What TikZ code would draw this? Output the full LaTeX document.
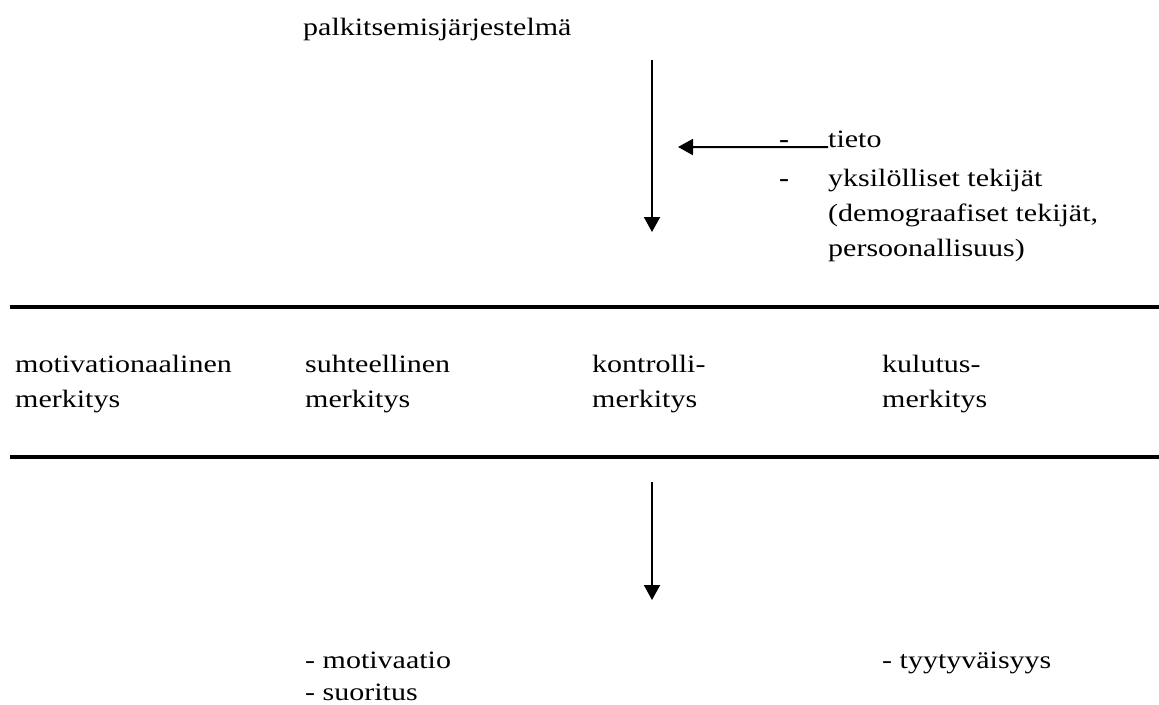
\documentclass[tikz,border=0pt]{standalone}
\usepackage{fontspec}
\setmainfont[FakeStretch=1.2]{Liberation Serif}
\usetikzlibrary{arrows.meta}

% strut that fixes the first baseline 24pt below a node's top edge
\newcommand\firstline{\rule{0pt}{24pt}}

\begin{document}
\begin{tikzpicture}[x=1pt,y=-1pt,
  lbl/.style={anchor=north west,inner sep=0pt,align=left,
    font=\fontsize{25pt}{35pt}\selectfont},
  flow/.style={line width=2pt,-{Triangle[width=16pt,length=15pt]}},
  rule/.style={line width=4pt}]
  \useasboundingbox (0,0) rectangle (1159,704);

  % source of the flow
  \node[lbl] (system) at (303,11) {\firstline palkitsemisjärjestelmä};

  % factors that shape the meaning
  \node[lbl] (dashA) at (779,123) {\firstline\textbf{-}};
  \node[lbl] (tieto) at (828,123) {\firstline tieto};
  \node[lbl] (dashB) at (779,162) {\firstline\textbf{-}};
  \node[lbl] (yksil) at (828,162) {\firstline yksilölliset tekijät\\(demograafiset tekijät,\\persoonallisuus)};

  % upper flow and the side arrow feeding into it
  \coordinate (topA) at (652,60);
  \coordinate (topB) at (652,232);
  \coordinate (sideTip) at (678,147);
  \draw[flow] (topA) -- (topB);
  \draw[flow] (tieto.base west) -- (sideTip);

  % band of the four meanings
  \coordinate (ruleAL) at (10,307);
  \coordinate (ruleAR) at (1159,307);
  \coordinate (ruleBL) at (10,457);
  \coordinate (ruleBR) at (1159,457);
  \draw[rule] (ruleAL) -- (ruleAR);
  \draw[rule] (ruleBL) -- (ruleBR);

  \node[lbl] (motiv) at (15,348) {\firstline motivationaalinen\\merkitys};
  \node[lbl] (suht)  at (305,348) {\firstline suhteellinen\\merkitys};
  \node[lbl] (kontr) at (592,348) {\firstline kontrolli-\\merkitys};
  \node[lbl] (kulut) at (882,348) {\firstline kulutus-\\merkitys};

  % lower flow
  \coordinate (lowA) at (652,482);
  \coordinate (lowB) at (652,600);
  \draw[flow] (lowA) -- (lowB);

  % outcomes
  \node[lbl,font=\fontsize{25pt}{32pt}\selectfont] (tulos) at (305,644) {\firstline - motivaatio\\- suoritus};
  \node[lbl] (tyyt)  at (882,644) {\firstline - tyytyväisyys};
\end{tikzpicture}
\end{document}
